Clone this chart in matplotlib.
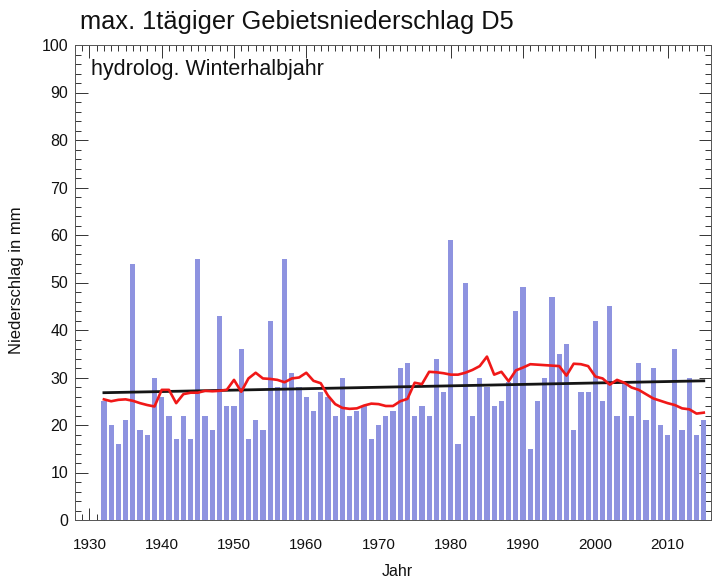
import numpy as np
import matplotlib
matplotlib.use("Agg")
import matplotlib.pyplot as plt
from matplotlib.ticker import MultipleLocator

plt.rcParams['font.family'] = ['Liberation Sans', 'DejaVu Sans']

years = list(range(1932, 2016))
precip = [25, 20, 16, 21, 54, 19, 18, 30, 26, 22,
          17, 22, 17, 55, 22, 19, 43, 24, 24, 36,
          17, 21, 19, 42, 28, 55, 31, 28, 26, 23,
          27, 26, 22, 30, 22, 23, 24, 17, 20, 22,
          23, 32, 33, 22, 24, 22, 34, 27, 59, 16,
          50, 22, 30, 28, 24, 25, 29, 44, 49, 15,
          25, 30, 47, 35, 37, 19, 27, 27, 42, 25,
          45, 22, 29, 22, 33, 21, 32, 20, 18, 36,
          19, 30, 18, 21]
smooth = [25.4, 25.0, 25.3, 25.4, 25.1, 24.6, 24.2, 23.9, 27.4, 27.4,
          24.6, 26.5, 26.8, 26.8, 27.2, 27.1, 27.2, 27.4, 29.5, 27.0,
          29.8, 31.0, 29.8, 29.7, 29.5, 29.0, 29.8, 30.0, 31.0, 29.3,
          28.8, 26.2, 24.4, 23.6, 23.4, 23.5, 24.1, 24.5, 24.4, 24.0,
          24.0, 25.0, 25.5, 28.9, 28.6, 31.2, 31.1, 30.9, 30.6, 30.6,
          31.0, 31.6, 32.4, 34.4, 30.6, 31.2, 29.2, 31.5, 32.1, 32.8,
          32.7, 32.6, 32.5, 32.4, 30.4, 32.9, 32.8, 32.4, 30.2, 29.8,
          28.5, 29.5, 28.9, 27.9, 27.4, 26.5, 25.6, 25.1, 24.6, 24.2,
          23.5, 23.3, 22.4, 22.6]
trend_years = [1932, 2015]
trend_values = [26.8, 29.3]

title = "max. 1tägiger Gebietsniederschlag D5"
subtitle = "hydrolog. Winterhalbjahr"
ylabel = "Niederschlag in mm"
xlabel = "Jahr"

fig = plt.figure(figsize=(7.19, 5.83), dpi=100)
ax = fig.add_axes([75/719, 1 - 520/583, (711 - 75)/719, (520 - 45)/583])

ax.bar(years, precip, width=0.72, color='#8e93e0', edgecolor='none', zorder=2)
ax.plot(trend_years, trend_values, color='#151515', lw=2.0, zorder=3)
ax.plot(years, smooth, color='#f01818', lw=1.9, zorder=4)

ax.set_xlim(1928, 2016)
ax.set_ylim(0, 100)
ax.xaxis.set_major_locator(MultipleLocator(10))
ax.xaxis.set_minor_locator(MultipleLocator(1))
ax.yaxis.set_major_locator(MultipleLocator(10))
ax.yaxis.set_minor_locator(MultipleLocator(2))
ax.tick_params(which='both', direction='in', top=True, right=True, width=0.7, colors='#333333')
ax.tick_params(which='major', length=9)
ax.tick_params(which='minor', length=4)
ax.tick_params(axis='x', which='major', pad=13, labelsize=11, labelcolor='#111111')
ax.tick_params(axis='y', which='major', pad=5, labelsize=11.5, labelcolor='#111111')
for s in ax.spines.values():
    s.set_linewidth(0.7)
    s.set_color('#555555')

fig.text(80/719, 1 - 22/583, title, fontsize=18.3, ha='left', va='center', color='#111111')
ax.text(0.025, 0.948, subtitle, transform=ax.transAxes, fontsize=15.5, ha='left', va='center', color='#111111')
fig.text(17/719, 1 - 280/583, ylabel, fontsize=12, rotation=90, ha='center', va='center', color='#111111')
fig.text(397/719, 1 - 572/583, xlabel, fontsize=11.5, ha='center', va='center', color='#111111')

fig.savefig('out.png', dpi=100)
